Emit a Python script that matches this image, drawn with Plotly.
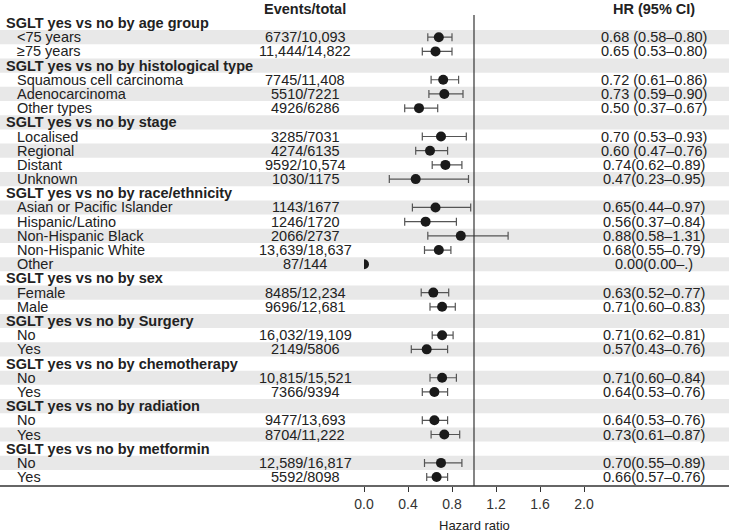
import plotly.graph_objects as go

# ---------------- data ----------------
group_titles = [
    "SGLT yes vs no by age group",
    "SGLT yes vs no by histological type",
    "SGLT yes vs no by stage",
    "SGLT yes vs no by race/ethnicity",
    "SGLT yes vs no by sex",
    "SGLT yes vs no by Surgery",
    "SGLT yes vs no by chemotherapy",
    "SGLT yes vs no by radiation",
    "SGLT yes vs no by metformin",
]
group_sizes = [2, 3, 4, 5, 2, 2, 2, 2, 2]

sub_labels = [
    "<75 years", "≥75 years",
    "Squamous cell carcinoma", "Adenocarcinoma", "Other types",
    "Localised", "Regional", "Distant", "Unknown",
    "Asian or Pacific Islander", "Hispanic/Latino", "Non-Hispanic Black",
    "Non-Hispanic White", "Other",
    "Female", "Male",
    "No", "Yes",
    "No", "Yes",
    "No", "Yes",
    "No", "Yes",
]
events_total = [
    "6737/10,093", "11,444/14,822",
    "7745/11,408", "5510/7221", "4926/6286",
    "3285/7031", "4274/6135", "9592/10,574", "1030/1175",
    "1143/1677", "1246/1720", "2066/2737", "13,639/18,637", "87/144",
    "8485/12,234", "9696/12,681",
    "16,032/19,109", "2149/5806",
    "10,815/15,521", "7366/9394",
    "9477/13,693", "8704/11,222",
    "12,589/16,817", "5592/8098",
]
hr = [0.68, 0.65, 0.72, 0.73, 0.50, 0.70, 0.60, 0.74, 0.47,
      0.65, 0.56, 0.88, 0.68, 0.00, 0.63, 0.71, 0.71, 0.57,
      0.71, 0.64, 0.64, 0.73, 0.70, 0.66]
ci_low = [0.58, 0.53, 0.61, 0.59, 0.37, 0.53, 0.47, 0.62, 0.23,
          0.44, 0.37, 0.58, 0.55, None, 0.52, 0.60, 0.62, 0.43,
          0.60, 0.53, 0.53, 0.61, 0.55, 0.57]
ci_high = [0.80, 0.80, 0.86, 0.90, 0.67, 0.93, 0.76, 0.89, 0.95,
           0.97, 0.84, 1.31, 0.79, None, 0.77, 0.83, 0.81, 0.76,
           0.84, 0.76, 0.76, 0.87, 0.89, 0.76]
hr_text = [
    "0.68 (0.58–0.80)", "0.65 (0.53–0.80)",
    "0.72 (0.61–0.86)", "0.73 (0.59–0.90)", "0.50 (0.37–0.67)",
    "0.70 (0.53–0.93)", "0.60 (0.47–0.76)", "0.74(0.62–0.89)", "0.47(0.23–0.95)",
    "0.65(0.44–0.97)", "0.56(0.37–0.84)", "0.88(0.58–1.31)", "0.68(0.55–0.79)",
    "0.00(0.00–.)",
    "0.63(0.52–0.77)", "0.71(0.60–0.83)",
    "0.71(0.62–0.81)", "0.57(0.43–0.76)",
    "0.71(0.60–0.84)", "0.64(0.53–0.76)",
    "0.64(0.53–0.76)", "0.73(0.61–0.87)",
    "0.70(0.55–0.89)", "0.66(0.57–0.76)",
]
x_ticks = [0.0, 0.4, 0.8, 1.2, 1.6, 2.0]
x_tick_labels = ["0.0", "0.4", "0.8", "1.2", "1.6", "2.0"]

# ---------------- layout helpers ----------------
W, H = 729, 532
FONT = "Liberation Sans, Arial, Helvetica, sans-serif"
TXT = "#222222"
TSIZE = 14.5
ROW0_PX, ROW_PX = 23.0, 14.19
AXIS_PX = 486.0
X0_PX, X_UNIT = 364.0, 110.0

def row_at(px):
    return (px - ROW0_PX) / ROW_PX

rows = []
k = 0
for g, n in zip(group_titles, group_sizes):
    rows.append(("head", g, None))
    for _ in range(n):
        rows.append(("sub", sub_labels[k], k))
        k += 1
n_rows = len(rows)

fig = go.Figure()

pts_y, pts_x, e_plus, e_minus = [], [], [], []
for i, r in enumerate(rows):
    if r[0] != "sub":
        continue
    j = r[2]
    pts_y.append(i)
    pts_x.append(hr[j])
    if ci_low[j] is None:
        e_plus.append(None)
        e_minus.append(None)
    else:
        e_plus.append(ci_high[j] - hr[j])
        e_minus.append(hr[j] - ci_low[j])

fig.add_trace(go.Scatter(
    x=pts_x, y=pts_y, mode="markers",
    marker=dict(symbol="circle", size=10, color="#1a1a1a", line=dict(width=0)),
    error_x=dict(type="data", symmetric=False, array=e_plus, arrayminus=e_minus,
                 color="#555555", thickness=1.2, width=4),
    cliponaxis=True, hoverinfo="skip", showlegend=False,
))

shapes = []
for i in range(n_rows):
    if i % 2 == 1:
        shapes.append(dict(type="rect", xref="paper", yref="y", x0=0, x1=1,
                           y0=i - 0.5, y1=i + 0.5, fillcolor="#e8e8e8",
                           line=dict(width=0), layer="below"))
y_bottom = row_at(AXIS_PX)
y_top = row_at(0)
shapes.append(dict(type="line", xref="x", yref="y", x0=1, x1=1,
                   y0=row_at(15), y1=y_bottom, line=dict(color="#333333", width=1.2)))
dom_bottom = 1 - AXIS_PX / H
shapes.append(dict(type="line", xref="paper", yref="paper", x0=0, x1=1,
                   y0=dom_bottom, y1=dom_bottom, line=dict(color="#333333", width=1.5)))

ann = []
def add_text(px, row, text, anchor, bold=False):
    ann.append(dict(xref="paper", yref="y", x=px / W, y=row,
                    text=("<b>" + text + "</b>") if bold else text,
                    showarrow=False, xanchor=anchor, yanchor="middle",
                    font=dict(family=FONT, size=TSIZE, color=TXT)))

add_text(305, row_at(8.5), "Events/total", "center", bold=True)
add_text(654, row_at(8.5), "HR (95% CI)", "center", bold=True)
for i, r in enumerate(rows):
    if r[0] == "head":
        add_text(4, i, r[1], "left", bold=True)
    else:
        j = r[2]
        add_text(15, i, r[1], "left")
        add_text(305, i, events_total[j], "center")
        add_text(654, i, hr_text[j], "center")

ann.append(dict(xref="paper", yref="paper", x=474 / W, y=1 - 525 / H,
                text="Hazard ratio", showarrow=False, xanchor="center", yanchor="middle",
                font=dict(family=FONT, size=13, color=TXT)))

fig.update_layout(
    template="none",
    width=W, height=H,
    margin=dict(l=0, r=0, t=0, b=0, pad=0),
    paper_bgcolor="white", plot_bgcolor="rgba(0,0,0,0)",
    shapes=shapes, annotations=ann,
    xaxis=dict(domain=[X0_PX / W, (X0_PX + 2.0 * X_UNIT) / W], range=[0, 2.0],
               showgrid=False, zeroline=False, showline=False,
               ticks="outside", ticklen=5, tickwidth=1.2, tickcolor="#333333",
               tickvals=x_ticks, ticktext=x_tick_labels, ticklabelstandoff=0,
               tickfont=dict(family=FONT, size=14, color="#333333"),
               automargin=False, fixedrange=True),
    yaxis=dict(domain=[dom_bottom, 1], range=[y_bottom, y_top],
               showgrid=False, zeroline=False, showline=False,
               showticklabels=False, ticks="", automargin=False, fixedrange=True),
)

fig.write_html("out.html", config={"displayModeBar": False},
               post_script="document.body.style.margin='0';document.body.style.padding='0';")
